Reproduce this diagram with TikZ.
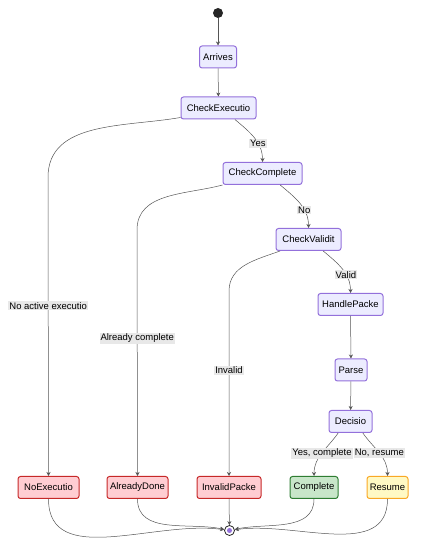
\documentclass[tikz,border=0pt]{standalone}
\usepackage{fontspec}
\setmainfont{Liberation Sans}
\usepackage{tikz}
\usetikzlibrary{positioning,calc,arrows.meta}

\definecolor{stbg}{HTML}{ECECFF}
\definecolor{stline}{HTML}{9370DB}
\definecolor{errbg}{HTML}{FFCDD2}
\definecolor{errline}{HTML}{C62828}
\definecolor{okbg}{HTML}{C8E6C9}
\definecolor{okline}{HTML}{2E7D32}
\definecolor{resbg}{HTML}{FFF9C4}
\definecolor{resline}{HTML}{F9A825}
\definecolor{lblbg}{HTML}{E8E8E8}
\definecolor{edgecol}{HTML}{555555}

\begin{document}
\begin{tikzpicture}[x=1pt,y=1pt,
		state/.style={rectangle, rounded corners=2.5pt, draw=stline, fill=stbg, line width=1pt, minimum height=22pt, inner sep=0pt, font=\fontsize{9.5}{11}\selectfont},
		errstate/.style={state, draw=errline, fill=errbg},
		okstate/.style={state, draw=okline, fill=okbg},
		resstate/.style={state, draw=resline, fill=resbg},
		lbl/.style={fill=lblbg, inner sep=1pt, font=\fontsize{9.5}{11}\selectfont},
		edge/.style={draw=edgecol, line width=0.5pt, -{Stealth[length=4pt,width=4pt]}}]
		\useasboundingbox (0,0) rectangle (430,538);
		
		\node[circle, fill=black!85, minimum size=10pt, inner sep=0pt] (start) at (218,525) {};
		\node[state, minimum width=37pt] (arrives) at (218,481) {Arrives};
		\node[state, minimum width=75pt] (chkexec) at (218.5,430) {CheckExecutio};
		\node[state, minimum width=79pt] (chkcomp) at (262.5,364.5) {CheckComplete};
		\node[state, minimum width=65pt] (chkvalid) at (308.5,298.5) {CheckValidit};
		\node[state, minimum width=65pt] (handle) at (350.5,233.5) {HandlePacke};
		\node[state, minimum width=32pt] (parse) at (351,168) {Parse};
		\node[state, minimum width=43pt] (decision) at (350.5,116.5) {Decisio};
		
		\node[errstate, minimum width=61pt] (noexec) at (48.5,50.5) {NoExecutio};
		\node[errstate, minimum width=61pt] (already) at (137.5,50.5) {AlreadyDone};
		\node[errstate, minimum width=64pt] (invalid) at (229,50.5) {InvalidPacke};
		\node[okstate, minimum width=48pt] (complete) at (314,50.5) {Complete};
		\node[resstate, minimum width=41pt] (resume) at (387.5,50.5) {Resume};
		
		\node[circle, draw=black!85, fill=white, line width=0.8pt, minimum size=10pt, inner sep=0pt] (end) at (229.5,7.5) {};
		\node[circle, fill=stline, minimum size=5pt, inner sep=0pt] (endin) at (end.center) {};
		
		\draw[edge] (start) -- (arrives);
		\draw[edge] (arrives) -- (chkexec);
		\draw[edge] (chkexec.-35) to[out=-40,in=90] node[lbl, pos=0.63] (yes) {Yes} (chkcomp.north);
		\draw[edge] (chkcomp.-33) to[out=-40,in=90] node[lbl, pos=0.65] (no) {No} (chkvalid.north);
		\draw[edge] (chkvalid.-38) to[out=-40,in=90] node[lbl, pos=0.63] (valid) {Valid} (handle.north);
		\draw[edge] (handle) -- (parse);
		\draw[edge] (parse) -- (decision);
		\draw[edge] (decision.223) to[out=-125,in=90] node[lbl, pos=0.5] (yescomp) {Yes, complete} (complete.north);
		\draw[edge] (decision.-43) to[out=-55,in=90] node[lbl, pos=0.5] (noresume) {No, resume} (resume.north);
		
		\draw[edge] (chkexec.194) to[out=190,in=90] ++(-132.5,-60) -- node[lbl, pos=0.43] (noactive) {No active executio} (noexec.north);
		\draw[edge] (chkcomp.south west) to[out=195,in=90] ++(-85.5,-45) -- node[lbl, pos=0.44] (alrcomp) {Already complete} (already.north);
		\draw[edge] (chkvalid.202) to[out=200,in=90] ++(-51,-40) -- node[lbl, pos=0.43] (inval) {Invalid} (invalid.north);
		
		\draw[edge] (noexec.south) to[out=-90,in=172] (end);
		\draw[edge] (already.south) to[out=-90,in=168] (end);
		\draw[edge] (invalid.south) -- (end);
		\draw[edge] (complete.south) to[out=-90,in=12] (end);
		\draw[edge] (resume.south) to[out=-90,in=8] (end);
	\end{tikzpicture}
\end{document}
